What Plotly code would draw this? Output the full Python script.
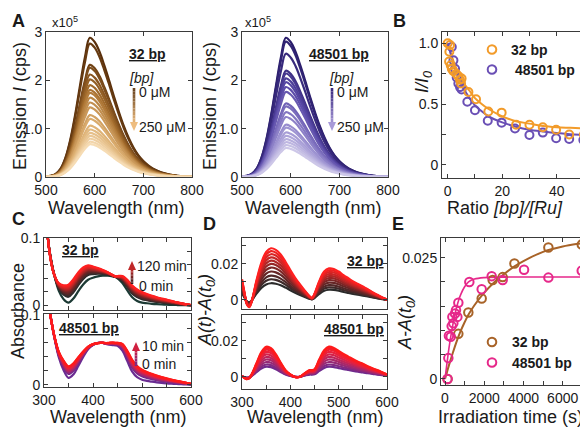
import plotly.graph_objects as go

# The page places the figure 8 px in from the top-left corner (default body margin),
# so the figure is sized to fill the rest of the 588x427 window.
OFF = 8
W, H = 588 - OFF, 427 - OFF
FONT = "Liberation Sans, Arial, sans-serif"
TXT = "#1a1a1a"
AX = "#3a3a3a"

# ---------------- DATA ----------------
# Panel A: emission spectra (intensity in units of 1e5 cps)
em_wl = [500, 510, 520, 530, 540, 550, 560, 570, 580, 590, 600, 610, 620, 630, 640, 650,
         660, 670, 680, 690, 700, 710, 720, 730, 740, 750, 760, 770, 780, 790, 800]
em_shape = [0.005, 0.008, 0.022, 0.06, 0.14, 0.27, 0.45, 0.66, 0.86, 1.0, 0.97, 0.90, 0.80,
            0.69, 0.575, 0.465, 0.365, 0.28, 0.21, 0.155, 0.115, 0.084, 0.06, 0.043, 0.03,
            0.021, 0.014, 0.009, 0.005, 0.003, 0.001]
peak_32 = [2.88, 2.76, 2.32, 2.26, 2.12, 2.02, 1.90, 1.80, 1.74, 1.64, 1.54, 1.44, 1.28,
           1.20, 1.06, 0.98, 0.91, 0.85, 0.79, 0.73, 0.68]
peak_48 = [2.88, 2.80, 2.55, 2.20, 2.14, 2.04, 1.96, 1.86, 1.76, 1.52, 1.46, 1.34, 1.24,
           1.08, 1.02, 0.92, 0.85, 0.78, 0.72, 0.66, 0.60]

# Panel B: I/I0 vs ratio
ratio_32 = [0, 0.86, 0.6, 0.5, 1.1, 1.5, 2.1, 3.1, 3.9, 4.5, 5.1, 4.9, 7.6, 10.4, 14.9, 19.8,
            25.1, 30.0, 34.9, 39.8, 44.6, 50.0]
ii0_32 = [1.0, 0.986, 0.93, 0.85, 0.82, 0.79, 0.77, 0.75, 0.73, 0.70, 0.71, 0.67, 0.60, 0.54,
          0.44, 0.43, 0.33, 0.33, 0.31, 0.29, 0.25, 0.25]
ratio_48 = [1.5, 2.1, 2.7, 3.3, 3.9, 4.5, 5.1, 7.2, 10.0, 14.7, 19.8, 24.7, 30.0, 34.9, 39.8,
            44.6, 49.8]
ii0_48 = [0.97, 0.86, 0.79, 0.72, 0.67, 0.64, 0.62, 0.52, 0.45, 0.364, 0.348, 0.30, 0.246,
          0.266, 0.22, 0.214, 0.205]
fit_ratio = [0, 1, 2, 3, 4, 5, 6, 8, 10, 12, 15, 20, 25, 30, 35, 40, 45, 50, 51.5]
fit_32 = [1.0, 0.93, 0.86, 0.80, 0.75, 0.71, 0.67, 0.61, 0.55, 0.51, 0.46, 0.40, 0.36, 0.34,
          0.32, 0.31, 0.305, 0.30, 0.30]
fit_48 = [1.0, 0.92, 0.84, 0.77, 0.71, 0.66, 0.62, 0.55, 0.49, 0.45, 0.40, 0.35, 0.315, 0.29,
          0.275, 0.262, 0.253, 0.247, 0.245]

# Panels C/D: absorbance spectra
abs_wl = [300, 305, 310, 315, 320, 330, 340, 350, 360, 370, 380, 390, 400, 410, 420, 430, 440,
          445, 450, 460, 470, 480, 490, 500, 510, 520, 530, 540, 550, 560, 570, 580, 590, 600]
abs0_32 = [0.150, 0.118, 0.088, 0.066, 0.048, 0.022, 0.009, 0.004, 0.010, 0.021, 0.031, 0.038,
           0.041, 0.043, 0.044, 0.044, 0.043, 0.042, 0.040, 0.033, 0.022, 0.012, 0.0065, 0.004,
           0.003, 0.0022, 0.0016, 0.0012, 0.0009, 0.0006, 0.0004, 0.0002, 0.0001, 0.0]
abs0_48 = [0.175, 0.145, 0.115, 0.092, 0.072, 0.040, 0.021, 0.010, 0.015, 0.027, 0.040, 0.051,
           0.057, 0.060, 0.060, 0.058, 0.057, 0.0565, 0.056, 0.049, 0.034, 0.019, 0.011, 0.0075,
           0.0058, 0.0046, 0.0036, 0.0028, 0.0022, 0.0017, 0.0013, 0.0009, 0.0006, 0.0003]
diff_32 = [0.40, 0.15, -0.08, -0.14, -0.03, 0.38, 0.72, 0.93, 1.0, 0.97, 0.88, 0.74, 0.58, 0.43,
           0.30, 0.18, 0.07, 0.04, 0.12, 0.37, 0.55, 0.61, 0.60, 0.55, 0.48, 0.42, 0.36, 0.31,
           0.26, 0.21, 0.15, 0.10, 0.05, 0.01]
diff_48 = [0.02, -0.04, -0.08, -0.05, 0.08, 0.45, 0.82, 1.0, 0.95, 0.75, 0.47, 0.22, 0.08, -0.01,
           0.0, 0.12, 0.22, 0.22, 0.25, 0.58, 0.88, 1.0, 0.96, 0.86, 0.76, 0.67, 0.58, 0.50,
           0.43, 0.35, 0.28, 0.22, 0.15, 0.08]
amp_32 = [0.0093, 0.0115, 0.0135, 0.0158, 0.0180, 0.0200, 0.0218, 0.0236, 0.0254, 0.0271, 0.0287]
amp_48 = [0.0056, 0.0068, 0.0082, 0.0096, 0.0110, 0.0124, 0.0138, 0.0150, 0.0160, 0.0167]

# Panel E: kinetics
t_32 = [130, 680, 1190, 1870, 2430, 2940, 3540, 5270, 6970]
dA_32 = [0.0, 0.0093, 0.0137, 0.0166, 0.0204, 0.0210, 0.0238, 0.0271, 0.0277]
t_48 = [130, 170, 200, 290, 340, 375, 425, 510, 560, 630, 680, 1240, 1870, 2380, 2940, 4030,
        5270, 6970]
dA_48 = [0.0, 0.0043, 0.0089, 0.0087, 0.0109, 0.0128, 0.0115, 0.0135, 0.0142, 0.0128, 0.0157,
         0.0200, 0.0185, 0.0212, 0.0204, 0.0225, 0.0209, 0.0223]
fit_t32 = [0, 200, 400, 600, 800, 1000, 1200, 1500, 2000, 2500, 3000, 3500, 4000, 5000, 6000,
           7000, 7300]
fit_E32 = [0, 0.0028, 0.0054, 0.0078, 0.0099, 0.0117, 0.0133, 0.0152, 0.0178, 0.0199, 0.0216,
           0.0231, 0.0243, 0.0262, 0.0273, 0.0280, 0.0282]
fit_t48 = [0, 100, 200, 300, 400, 500, 600, 700, 800, 1000, 1200, 1500, 2000, 3000, 7300]
fit_E48 = [0, 0.0032, 0.0063, 0.0089, 0.0112, 0.0132, 0.0149, 0.0163, 0.0174, 0.0190, 0.0200,
           0.0206, 0.0209, 0.0210, 0.0210]

ORANGE, PURPLE = "#F29B2A", "#6A4FB5"
BROWN, PINK = "#A86328", "#E6288A"


# ---------------- HELPERS ----------------
def fx(p):
    return (p - OFF) / W


def fy(p):
    return 1 - (p - OFF) / H


def hex2rgb(h):
    h = h.lstrip('#')
    return tuple(int(h[i:i + 2], 16) for i in (0, 2, 4))


def grad(stops, n):
    out = []
    for i in range(n):
        t = i / (n - 1) if n > 1 else 0
        seg = t * (len(stops) - 1)
        j = min(int(seg), len(stops) - 2)
        f = seg - j
        a, b = hex2rgb(stops[j]), hex2rgb(stops[j + 1])
        out.append('rgb(%d,%d,%d)' % tuple(round(a[k] + (b[k] - a[k]) * f) for k in range(3)))
    return out


fig = go.Figure()
shapes, annotations = [], []
layout = {}


def axis(domain, rng, anchor, tickvals, ticktext, minor_dtick, show_labels=True):
    d = dict(showline=True, linecolor=AX, linewidth=1, mirror='ticks', ticks='inside',
             ticklen=4, tickwidth=1, tickcolor=AX, showgrid=False, zeroline=False,
             tickfont=dict(family=FONT, size=14, color=TXT), tickmode='array',
             fixedrange=True, domain=domain, range=rng, anchor=anchor, automargin=False,
             tickvals=tickvals, ticktext=ticktext, showticklabels=show_labels)
    if minor_dtick:
        d['minor'] = dict(ticks='inside', ticklen=4, tickwidth=1, tickcolor=AX,
                          dtick=minor_dtick, tick0=0, showgrid=False)
    return d


def add_axes(n, xpx, ypx, xr, yr, xt, yt, xminor=None, yminor=None, xlabels=True):
    sx = '' if n == 1 else str(n)
    layout['xaxis' + sx] = axis([max(0, fx(xpx[0])), min(1, fx(xpx[1]))], xr, 'y' + sx, xt,
                                [('%g' % v) for v in xt], xminor, xlabels)
    layout['yaxis' + sx] = axis([fy(ypx[1]), fy(ypx[0])], yr, 'x' + sx, yt,
                                [('%g' % v if v != 1.0 else '1.0') for v in yt], yminor)
    return 'x' + sx, 'y' + sx


def txt(x, y, s, size=14, xanchor='center', yanchor='middle', angle=0):
    annotations.append(dict(x=fx(x), y=fy(y), xref='paper', yref='paper', text=s,
                            showarrow=False, xanchor=xanchor, yanchor=yanchor, textangle=angle,
                            font=dict(family=FONT, size=size, color=TXT)))


def grad_arrow(x, y_tail, y_head, c_tail, c_head, nseg=10, head=9, hw=4):
    d = 1 if y_head > y_tail else -1
    y_end = y_head - d * head
    cols = grad([c_tail, c_head], nseg + 1)
    for i in range(nseg):
        ya = y_tail + (y_end - y_tail) * i / nseg
        yb = y_tail + (y_end - y_tail) * (i + 1) / nseg
        shapes.append(dict(type='line', xref='paper', yref='paper', x0=fx(x), x1=fx(x),
                           y0=fy(ya), y1=fy(yb), line=dict(color=cols[i], width=2.6)))
    path = "M %f %f L %f %f L %f %f Z" % (fx(x - hw), fy(y_end), fx(x + hw), fy(y_end),
                                          fx(x), fy(y_head))
    shapes.append(dict(type='path', xref='paper', yref='paper', path=path,
                       fillcolor=cols[-1], line=dict(width=0)))


def circ(x, y, color, r=4.3):
    shapes.append(dict(type='circle', xref='paper', yref='paper', x0=fx(x - r), x1=fx(x + r),
                       y0=fy(y + r), y1=fy(y - r), line=dict(color=color, width=2)))


# ---------------- AXES ----------------
A_xt = [500, 600, 700, 800]
A_yt = [0, 1, 2, 3]
xa1, ya1 = add_axes(1, (46, 192), (32, 177), [500, 800], [0, 3], A_xt, A_yt)
xa2, ya2 = add_axes(2, (242, 388), (32, 177), [500, 800], [0, 3], A_xt, A_yt)
xb, yb = add_axes(3, (442, 588), (32, 178), [-2.1, 51.5], [-0.107, 1.093],
                  [0, 20, 40], [0, 0.5, 1.0], xminor=10, yminor=0.25)
wl_t = [300, 400, 500, 600]
xc1, yc1 = add_axes(4, (44, 191), (238, 310), [300, 600], [-0.007, 0.1], wl_t, [0, 0.1],
                    xminor=50, yminor=0.02, xlabels=False)
xc2, yc2 = add_axes(5, (44, 191), (314, 387), [300, 600], [-0.003, 0.1014], wl_t, [0, 0.1],
                    xminor=50, yminor=0.02)
xd1, yd1 = add_axes(6, (242, 387), (238, 309), [300, 600], [-0.005, 0.0344], wl_t, [0, 0.02],
                    xminor=50, yminor=0.01, xlabels=False)
xd2, yd2 = add_axes(7, (242, 387), (315, 389), [300, 600], [-0.0068, 0.0343], wl_t, [0, 0.02],
                    xminor=50, yminor=0.01)
xe, ye = add_axes(8, (441, 588), (238, 385), [-204, 7290], [-0.00124, 0.02906],
                  [0, 2000, 4000, 6000], [0, 0.025], xminor=1000, yminor=0.005)

# ---------------- TRACES ----------------
col_a1 = grad(['#5a300c', '#a8702f', '#dcae70', '#f6dcb4'], len(peak_32))
for a, c in zip(peak_32, col_a1):
    fig.add_trace(go.Scatter(x=em_wl, y=[a * s for s in em_shape], mode='lines',
                             line=dict(color=c, width=2.2, shape='spline'),
                             xaxis=xa1, yaxis=ya1, hoverinfo='skip'))
col_a2 = grad(['#2a1d6b', '#5a4aa8', '#9a8fd0', '#cdc7e8'], len(peak_48))
for a, c in zip(peak_48, col_a2):
    fig.add_trace(go.Scatter(x=em_wl, y=[a * s for s in em_shape], mode='lines',
                             line=dict(color=c, width=2.2, shape='spline'),
                             xaxis=xa2, yaxis=ya2, hoverinfo='skip'))

# B
for fy_, c in [(fit_32, ORANGE), (fit_48, PURPLE)]:
    fig.add_trace(go.Scatter(x=fit_ratio, y=fy_, mode='lines', line=dict(color=c, width=2,
                             shape='spline'), xaxis=xb, yaxis=yb, hoverinfo='skip'))
for xs, ys, c in [(ratio_48, ii0_48, PURPLE), (ratio_32, ii0_32, ORANGE)]:
    fig.add_trace(go.Scatter(x=xs, y=ys, mode='markers',
                             marker=dict(symbol='circle-open', size=8, color=c,
                                         line=dict(width=2, color=c)),
                             xaxis=xb, yaxis=yb, hoverinfo='skip'))

# C and D
col_d1 = grad(['#2b2b2b', '#6b2626', '#c02626', '#ff2020'], len(amp_32))
col_d2 = grad(['#6e2a8e', '#a8286a', '#e8203c', '#ff1a1a'], len(amp_48))
fig.add_trace(go.Scatter(x=abs_wl, y=abs0_32, mode='lines',
                         line=dict(color='#1c3a34', width=2.2, shape='spline'),
                         xaxis=xc1, yaxis=yc1, hoverinfo='skip'))
for k, c in zip(amp_32, col_d1):
    fig.add_trace(go.Scatter(x=abs_wl, y=[a0 + k * d for a0, d in zip(abs0_32, diff_32)],
                             mode='lines', line=dict(color=c, width=2.2, shape='spline'),
                             xaxis=xc1, yaxis=yc1, hoverinfo='skip'))
    fig.add_trace(go.Scatter(x=abs_wl, y=[k * d for d in diff_32], mode='lines',
                             line=dict(color=c, width=2.2, shape='spline'),
                             xaxis=xd1, yaxis=yd1, hoverinfo='skip'))
fig.add_trace(go.Scatter(x=abs_wl, y=abs0_48, mode='lines',
                         line=dict(color='#6a2c92', width=2.2, shape='spline'),
                         xaxis=xc2, yaxis=yc2, hoverinfo='skip'))
for k, c in zip(amp_48, col_d2):
    fig.add_trace(go.Scatter(x=abs_wl, y=[a0 + k * d for a0, d in zip(abs0_48, diff_48)],
                             mode='lines', line=dict(color=c, width=2.2, shape='spline'),
                             xaxis=xc2, yaxis=yc2, hoverinfo='skip'))
    fig.add_trace(go.Scatter(x=abs_wl, y=[k * d for d in diff_48], mode='lines',
                             line=dict(color=c, width=2.2, shape='spline'),
                             xaxis=xd2, yaxis=yd2, hoverinfo='skip'))

# E
fig.add_trace(go.Scatter(x=fit_t32, y=fit_E32, mode='lines',
                         line=dict(color=BROWN, width=2, shape='spline'),
                         xaxis=xe, yaxis=ye, hoverinfo='skip'))
fig.add_trace(go.Scatter(x=fit_t48, y=fit_E48, mode='lines',
                         line=dict(color=PINK, width=1.6, shape='spline'),
                         xaxis=xe, yaxis=ye, hoverinfo='skip'))
for xs, ys, c in [(t_32, dA_32, BROWN), (t_48, dA_48, PINK)]:
    fig.add_trace(go.Scatter(x=xs, y=ys, mode='markers',
                             marker=dict(symbol='circle-open', size=8.5, color=c,
                                         line=dict(width=2, color=c)),
                             xaxis=xe, yaxis=ye, hoverinfo='skip'))

# ---------------- TEXT ----------------
for lbl, x, y in [('A', 18, 21), ('B', 399, 21), ('C', 18, 219), ('D', 209, 224), ('E', 398, 224)]:
    txt(x, y, '<b>%s</b>' % lbl, size=18)

txt(65, 22, 'x10<sup>5</sup>', size=13)
txt(258, 22, 'x10<sup>5</sup>', size=13)
txt(20, 106, 'Emission <i>I</i> (cps)', size=18, angle=-90)
txt(210, 106, 'Emission <i>I</i> (cps)', size=18, angle=-90)
txt(116, 208, 'Wavelength (nm)', size=18)
txt(313, 208, 'Wavelength (nm)', size=18)
txt(505, 208, 'Ratio <i>[bp]/[Ru]</i>', size=18)
txt(423, 82, '<i>I/I<sub>0</sub></i>', size=18, angle=-90)

txt(147, 54, '<b><u>32 bp</u></b>', size=14)
txt(141, 78, '<i>[bp]</i>', size=14)
txt(137, 92, '0 μM', size=14, xanchor='left')
txt(137, 127, '250 μM', size=14, xanchor='left')
grad_arrow(134, 88, 131, '#6b4520', '#eebd80')

txt(339, 54, '<b><u>48501 bp</u></b>', size=14)
txt(341, 78, '<i>[bp]</i>', size=14)
txt(335, 92, '0 μM', size=14, xanchor='left')
txt(335, 127, '250 μM', size=14, xanchor='left')
grad_arrow(332, 88, 131, '#3a2a80', '#a89ad8')

# B legend
circ(492, 49.5, ORANGE)
circ(492, 69.5, PURPLE)
txt(509, 49.5, '<b>32 bp</b>', size=14, xanchor='left')
txt(513, 70, '<b>48501 bp</b>', size=14, xanchor='left')

# C
txt(18, 311, 'Absorbance', size=18, angle=-90)
txt(80, 250, '<b><u>32 bp</u></b>', size=14)
txt(135, 266, '120 min', size=14, xanchor='left')
txt(137, 286, '0 min', size=14, xanchor='left')
grad_arrow(132, 284, 261, '#3a2020', '#c02828')
txt(89, 328, '<b><u>48501 bp</u></b>', size=14)
txt(140, 346, '10 min', size=14, xanchor='left')
txt(140, 364, '0 min', size=14, xanchor='left')
grad_arrow(136, 366, 342, '#6e2a8e', '#d02040')
txt(118, 417, 'Wavelength (nm)', size=18)

# D
txt(206, 310, '<i>A(t)-A(t<sub>0</sub>)</i>', size=18, angle=-90)
txt(365, 261, '<b><u>32 bp</u></b>', size=14)
txt(354, 329, '<b><u>48501 bp</u></b>', size=14)
txt(315, 417, 'Wavelength (nm)', size=18)

# E
txt(406, 323, '<i>A-A(t<sub>0</sub>)</i>', size=18, angle=-90)
circ(492, 342, BROWN)
circ(492, 362.5, PINK)
txt(510, 342, '<b>32 bp</b>', size=14, xanchor='left')
txt(510, 363, '<b>48501 bp</b>', size=14, xanchor='left')
txt(510, 417, 'Irradiation time (s)', size=18)

fig.update_layout(width=W, height=H,
                  margin=dict(l=0, r=0, t=0, b=0, pad=0, autoexpand=False),
                  paper_bgcolor='white', plot_bgcolor='white', showlegend=False,
                  shapes=shapes, annotations=annotations, **layout)

fig.write_html("out.html")
